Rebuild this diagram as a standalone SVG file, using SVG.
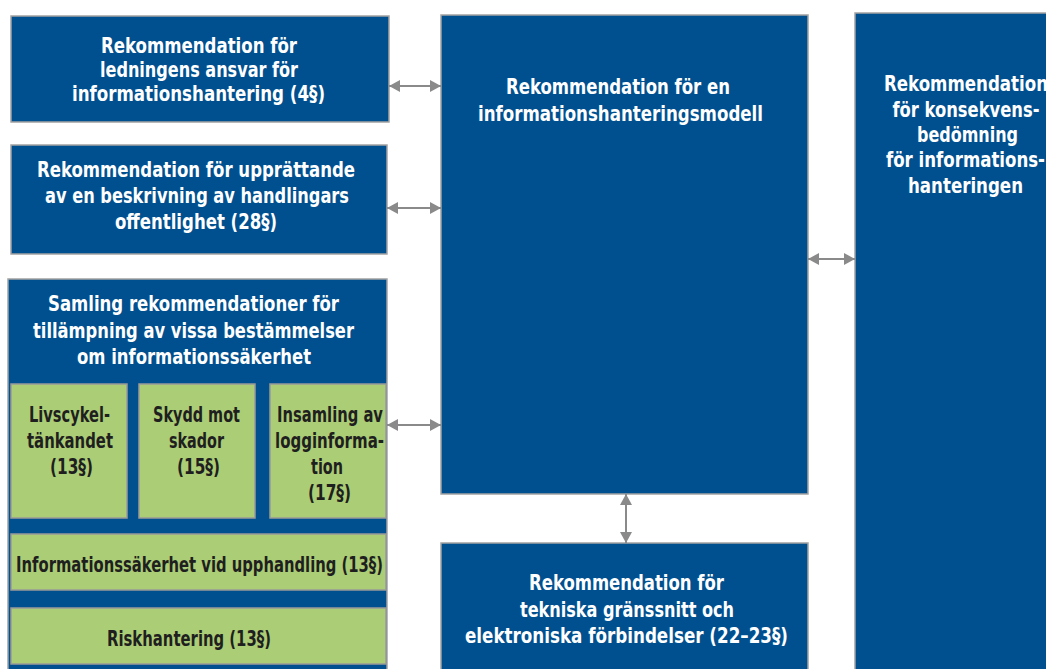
<svg xmlns="http://www.w3.org/2000/svg" width="1046" height="669" viewBox="0 0 1046 669">
<style>
.b{fill:#00508f;stroke:#a3a3a3;stroke-width:1.5}
.g{fill:#abcd75;stroke:#999;stroke-width:1.5}
text{font-family:"DejaVu Sans Condensed","DejaVu Sans",sans-serif;font-weight:bold;font-size:22px;text-anchor:middle}
.w{fill:#fff}
.d{fill:#1f1f1f}
.c{stroke:#8a8a8a;stroke-width:2;fill:none;marker-start:url(#ah);marker-end:url(#ah)}
</style>
<defs>
<marker id="ah" markerUnits="userSpaceOnUse" markerWidth="12" markerHeight="12" refX="11" refY="6" orient="auto-start-reverse"><path d="M0,0 L11,6 L0,12 z" fill="#8a8a8a"/></marker>
</defs>
<rect width="1046" height="669" fill="#fff"/>
<g id="n-ledning"><rect class="b" x="11" y="16" width="378" height="106"/>
<text class="w" x="199" y="53" textLength="196" lengthAdjust="spacingAndGlyphs">Rekommendation för</text>
<text class="w" x="199" y="77" textLength="198" lengthAdjust="spacingAndGlyphs">ledningens ansvar för</text>
<text class="w" x="198.5" y="101" textLength="253" lengthAdjust="spacingAndGlyphs">informationshantering (4§)</text></g>
<g id="n-offentlighet"><rect class="b" x="11" y="145" width="376" height="109"/>
<text class="w" x="196" y="177" textLength="318" lengthAdjust="spacingAndGlyphs">Rekommendation för upprättande</text>
<text class="w" x="197" y="203" textLength="304" lengthAdjust="spacingAndGlyphs">av en beskrivning av handlingars</text>
<text class="w" x="196" y="229" textLength="162" lengthAdjust="spacingAndGlyphs">offentlighet (28§)</text></g>
<g id="n-samling"><rect class="b" x="8" y="279" width="379" height="400"/>
<text class="w" x="193.5" y="311" textLength="291" lengthAdjust="spacingAndGlyphs">Samling rekommendationer för</text>
<text class="w" x="193.5" y="338" textLength="321" lengthAdjust="spacingAndGlyphs">tillämpning av vissa bestämmelser</text>
<text class="w" x="194" y="364" textLength="234" lengthAdjust="spacingAndGlyphs">om informationssäkerhet</text>
<g id="n-livscykel"><rect class="g" x="11" y="384" width="116" height="134"/>
<text class="d" x="69.5" y="422" textLength="81" lengthAdjust="spacingAndGlyphs">Livscykel-</text>
<text class="d" x="70" y="448" textLength="86" lengthAdjust="spacingAndGlyphs">tänkandet</text>
<text class="d" x="71.5" y="474" textLength="43" lengthAdjust="spacingAndGlyphs">(13§)</text></g>
<g id="n-skydd"><rect class="g" x="139" y="384" width="116" height="134"/>
<text class="d" x="196.5" y="422" textLength="87" lengthAdjust="spacingAndGlyphs">Skydd mot</text>
<text class="d" x="196.5" y="448" textLength="55" lengthAdjust="spacingAndGlyphs">skador</text>
<text class="d" x="198.5" y="474" textLength="43" lengthAdjust="spacingAndGlyphs">(15§)</text></g>
<g id="n-insamling"><rect class="g" x="270" y="384" width="116" height="134"/>
<text class="d" x="330" y="422" textLength="106" lengthAdjust="spacingAndGlyphs">Insamling av</text>
<text class="d" x="329.5" y="448" textLength="109" lengthAdjust="spacingAndGlyphs">logginforma-</text>
<text class="d" x="327" y="474" textLength="32" lengthAdjust="spacingAndGlyphs">tion</text>
<text class="d" x="329.5" y="500" textLength="43" lengthAdjust="spacingAndGlyphs">(17§)</text></g>
<g id="n-upphandling"><rect class="g" x="11" y="534" width="375" height="56"/>
<text class="d" x="199.5" y="572" textLength="367" lengthAdjust="spacingAndGlyphs">Informationssäkerhet vid upphandling (13§)</text></g>
<g id="n-risk"><rect class="g" x="11" y="608" width="375" height="56"/>
<text class="d" x="189" y="646" textLength="164" lengthAdjust="spacingAndGlyphs">Riskhantering (13§)</text></g>
</g>
<g id="n-modell"><rect class="b" x="441" y="15" width="367" height="479"/>
<text class="w" x="618" y="94" textLength="224" lengthAdjust="spacingAndGlyphs">Rekommendation för en</text>
<text class="w" x="620.5" y="121" textLength="285" lengthAdjust="spacingAndGlyphs">informationshanteringsmodell</text></g>
<g id="n-tekniska"><rect class="b" x="441" y="543" width="367" height="140"/>
<text class="w" x="626.5" y="590" textLength="195" lengthAdjust="spacingAndGlyphs">Rekommendation för</text>
<text class="w" x="627" y="617" textLength="214" lengthAdjust="spacingAndGlyphs">tekniska gränssnitt och</text>
<text class="w" x="626.5" y="643" textLength="323" lengthAdjust="spacingAndGlyphs">elektroniska förbindelser (22–23§)</text></g>
<g id="n-konsekvens"><rect class="b" x="855" y="13" width="200" height="670"/>
<text class="w" x="966" y="91" textLength="164" lengthAdjust="spacingAndGlyphs">Rekommendation</text>
<text class="w" x="966" y="117" textLength="147" lengthAdjust="spacingAndGlyphs">för konsekvens-</text>
<text class="w" x="967.5" y="142" textLength="101" lengthAdjust="spacingAndGlyphs">bedömning</text>
<text class="w" x="965.5" y="167" textLength="159" lengthAdjust="spacingAndGlyphs">för informations-</text>
<text class="w" x="965.5" y="193" textLength="115" lengthAdjust="spacingAndGlyphs">hanteringen</text></g>
<g id="connectors">
<line class="c" x1="389" y1="86" x2="441" y2="86"/>
<line class="c" x1="387" y1="208" x2="441" y2="208"/>
<line class="c" x1="387" y1="425" x2="441" y2="425"/>
<line class="c" x1="808" y1="259" x2="855" y2="259"/>
<line class="c" x1="626" y1="494" x2="626" y2="543"/>
</g>
</svg>
